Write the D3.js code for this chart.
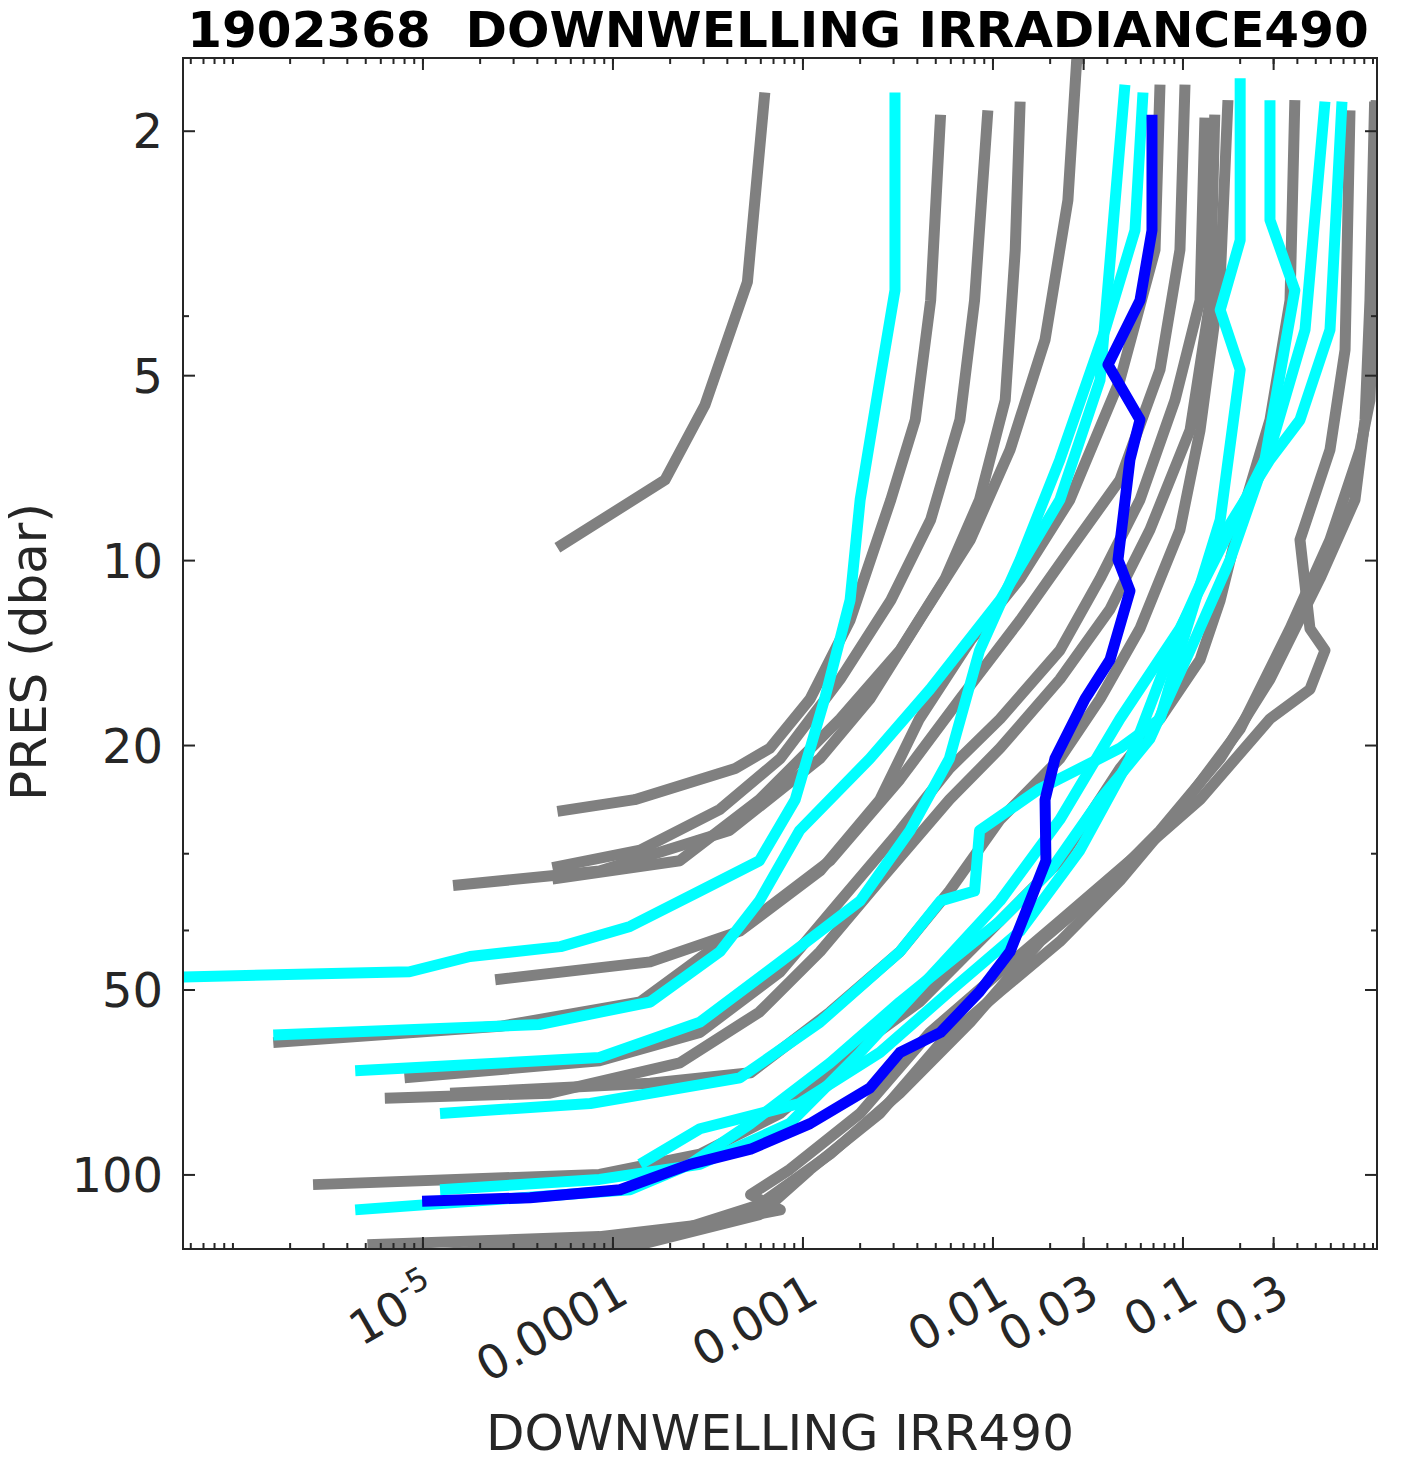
<!DOCTYPE html>
<html><head><meta charset="utf-8">
<script src="https://cdn.jsdelivr.net/npm/d3@7"></script>
<style>body{margin:0;background:#fff}svg{font-family:"DejaVu Sans",sans-serif}</style>
</head><body><svg id="c" width="1411" height="1464"></svg>
<script>
const title = "1902368  DOWNWELLING IRRADIANCE490";
const xLabel = "DOWNWELLING IRR490";
const yLabel = "PRES (dbar)";
const xTicks = [1e-5, 1e-4, 1e-3, 0.01, 0.03, 0.1, 0.3];
const xTickLabels = ["10^-5", "0.0001", "0.001", "0.01", "0.03", "0.1", "0.3"];
const yTicks = [2, 5, 10, 20, 50, 100];
const yMinorTicks = [4, 30, 40];

// gray profiles: [irradiance, pressure]
const gray = [
 [[6.3e-4,1.73],[5.1e-4,3.52],[3.05e-4,5.58],[1.88e-4,7.39],[5.1e-5,9.53]],
 [[5.3e-3,1.88],[4.7e-3,3.77],[3.9e-3,5.9],[2.9e-3,7.96],[1.77e-3,12.5],[1.09e-3,16.8],[6.7e-4,20.2],[4.4e-4,21.8],[1.3e-4,24.5],[5.1e-5,25.6]],
 [[9.4e-3,1.85],[8.0e-3,3.77],[6.7e-3,5.9],[4.7e-3,8.58],[2.9e-3,11.6],[1.57e-3,15.6],[7.6e-4,21.0],[3.66e-4,25.4],[1.39e-4,29.6],[4.8e-5,31.6]],
 [[0.0139,1.79],[0.0131,3.12],[0.0116,5.48],[8.5e-3,7.96],[5.6e-3,10.7],[3.24e-3,14.0],[1.57e-3,18.1],[5.9e-4,24.5],[2.25e-4,30.8],[4.8e-5,33.0]],
 [[0.0277,1.5],[0.0248,2.59],[0.0188,4.37],[0.0123,6.6],[7.6e-3,9.25],[4.1e-3,12.5],[2.25e-3,16.8],[1.23e-3,21.0],[4.1e-4,27.5],[8.5e-5,32.0],[1.44e-5,33.8]],
 [[0.0757,1.68],[0.0713,3.12],[0.0466,5.08],[0.0254,7.96],[0.0139,10.7],[7.6e-3,13.5],[4.1e-3,18.1],[2.54e-3,24.5],[1.23e-3,32.0],[4.66e-4,40.1],[1.57e-4,45.0],[2.4e-5,48.1]],
 [[0.1025,1.68],[0.0964,3.12],[0.0757,4.89],[0.0466,7.39],[0.0254,9.6],[0.0139,12.5],[6.7e-3,16.8],[3.24e-3,22.7],[1.39e-3,30.8],[5.3e-4,38.6],[1.39e-4,52.3],[2.54e-5,57.3],[1.63e-6,60.9]],
 [[0.1305,1.9],[0.123,3.77],[0.0908,5.48],[0.0594,7.96],[0.0366,10.7],[0.0225,14.0],[0.0109,18.1],[5.9e-3,21.8],[3.24e-3,27.5],[1.57e-3,35.8],[7.6e-4,46.7],[2.87e-4,58.6],[8.5e-5,65.2],[8.0e-6,69.5]],
 [[0.147,1.88],[0.139,3.77],[0.109,6.13],[0.067,8.91],[0.0413,12.0],[0.0225,15.6],[0.0109,20.2],[5.9e-3,24.5],[2.54e-3,33.2],[1.23e-3,43.3],[5.9e-4,54.3],[2.25e-4,65.7],[4.66e-5,73.6],[6.3e-6,75.0]],
 [[0.1725,1.78],[0.157,3.49],[0.123,6.13],[0.0964,8.91],[0.0594,12.9],[0.0366,16.8],[0.0225,21.0],[0.0109,26.4],[5.9e-3,34.5],[3.24e-3,43.3],[1.39e-3,54.3],[5.3e-4,68.2],[1.57e-4,70.9],[1.39e-5,73.6]],
 [[0.388,1.78],[0.366,3.77],[0.287,5.9],[0.2,8.58],[0.157,11.6],[0.123,14.5],[0.0757,18.1],[0.0466,21.8],[0.0225,30.8],[0.0109,38.6],[4.1e-3,52.3],[1.77e-3,63.2],[7.6e-4,79.4],[2.87e-4,92.5],[8.5e-5,99.8],[2.64e-6,103.7]],
 [[0.757,1.85],[0.713,4.54],[0.594,6.6],[0.413,9.25],[0.466,12.9],[0.559,14.0],[0.466,16.2],[0.287,18.1],[0.123,24.5],[0.0526,30.8],[0.0225,38.6],[0.0109,46.7],[4.66e-3,58.6],[2.0e-3,79.4],[8.5e-4,98.0],[5.3e-4,107.7],[7.6e-4,114.0],[2.87e-4,120.6],[8.5e-5,126.0],[5.1e-6,129.9]],
 [[1.02,1.79],[0.964,3.77],[0.908,5.9],[0.804,7.96],[0.526,10.7],[0.287,15.6],[0.157,21.0],[0.0757,27.5],[0.0366,34.5],[0.0177,41.7],[7.6e-3,56.4],[3.24e-3,73.6],[1.39e-3,92.5],[5.9e-4,111.8],[1.57e-4,127.4],[9.9e-6,134.8]],
 [[1.04,1.78],[1.02,3.49],[0.964,5.48],[0.855,6.6],[0.594,9.25],[0.366,12.9],[0.2,18.8],[0.0964,25.4],[0.0466,33.2],[0.0225,41.7],[0.0109,50.3],[5.3e-3,61.0],[2.54e-3,79.4],[1.09e-3,98.0],[5.9e-4,116.1],[1.09e-4,132.3],[2.0e-5,134.8]]
];
// cyan profiles
const cyan = [
 [[3.05e-3,1.73],[3.05e-3,3.63],[2.54e-3,5.08],[2.0e-3,7.96],[1.77e-3,11.6],[1.3e-3,16.8],[9.1e-4,24.5],[5.9e-4,30.8],[2.87e-4,34.5],[1.23e-4,39.4],[5.3e-5,42.5],[1.77e-5,44.1],[8.5e-6,46.7],[5.5e-7,47.6]],
 [[0.0495,1.68],[0.0366,5.08],[0.0225,7.96],[0.0109,11.6],[4.66e-3,16.2],[2.25e-3,21.0],[9.6e-4,27.5],[5.9e-4,35.8],[3.66e-4,43.3],[1.57e-4,52.3],[4.1e-5,56.9],[1.63e-6,59.2]],
 [[0.0616,1.73],[0.0559,2.9],[0.0389,4.21],[0.0225,6.85],[0.0139,9.97],[8.5e-3,14.0],[5.9e-3,21.0],[3.66e-3,27.5],[2.0e-3,35.8],[7.6e-4,45.0],[2.87e-4,56.4],[8.5e-5,64.4],[4.4e-6,67.7]],
 [[0.2,1.64],[0.2,3.01],[0.157,3.91],[0.2,4.89],[0.157,8.58],[0.0964,14.0],[0.0757,18.1],[0.0466,20.2],[0.0177,23.5],[8.5e-3,27.5],[8.0e-3,34.5],[5.3e-3,35.8],[3.24e-3,43.3],[1.23e-3,56.4],[4.66e-4,69.5],[7.6e-5,76.5],[1.23e-5,79.4]],
 [[0.287,1.78],[0.287,2.79],[0.388,3.63],[0.27,6.85],[0.177,9.97],[0.109,14.0],[0.067,19.5],[0.0366,24.5],[0.02,32.0],[0.0109,38.6],[5.9e-3,45.0],[3.24e-3,52.3],[1.39e-3,65.7],[5.3e-4,82.5],[2.54e-4,96.1],[1.23e-4,105.7],[4.4e-6,114.0]],
 [[0.559,1.79],[0.439,4.21],[0.287,6.6],[0.177,8.91],[0.0964,12.9],[0.0466,18.1],[0.0225,26.4],[0.0109,35.8],[4.66e-3,47.6],[2.0e-3,63.2],[8.5e-4,82.5],[2.87e-4,96.1],[8.5e-5,101.7],[1.23e-5,105.7]],
 [[0.687,1.79],[0.594,4.21],[0.413,5.9],[0.287,6.85],[0.157,9.25],[0.0908,13.5],[0.0526,21.0],[0.0287,29.6],[0.0139,40.1],[5.9e-3,50.3],[2.54e-3,63.2],[9.6e-4,76.5],[2.87e-4,84.1],[1.39e-4,96.1]]
];
// highlighted (blue) profile
const blue = [[0.0687,1.88],[0.0687,2.9],[0.0594,3.77],[0.0403,4.8],[0.0594,5.9],[0.0526,6.85],[0.0455,9.97],[0.0526,11.2],[0.0413,14.5],[0.0305,16.8],[0.0212,21.0],[0.0188,24.5],[0.019,30.8],[0.0157,35.8],[0.0123,43.3],[8.5e-3,50.3],[5.3e-3,58.6],[3.24e-3,63.2],[2.25e-3,72.2],[1.09e-3,82.5],[5.3e-4,90.8],[2.54e-4,96.1],[1.09e-4,105.7],[3.66e-5,108.9],[9.9e-6,110.4]];

const L=183,R=1377,T=58,B=1249, ink="#262626";
const svg=d3.select("#c");
const x=d3.scaleLog().domain([5.46e-7,1.05]).range([L,R]);
const y=d3.scaleLog().domain([1.52,132]).range([T,B]);
svg.append("defs").append("clipPath").attr("id","cp").append("rect").attr("x",L).attr("y",T).attr("width",R-L).attr("height",B-T);
const line=d3.line().x(d=>x(d[0])).y(d=>y(d[1]));
const g=svg.append("g").attr("clip-path","url(#cp)");
const draw=(arr,col)=>arr.forEach(s=>g.append("path").attr("d",line(s)).attr("fill","none").attr("stroke",col).attr("stroke-width",11).attr("stroke-linejoin","round"));
draw(gray,"#808080"); draw(cyan,"#00ffff"); draw([blue],"#0000ff");

svg.append("rect").attr("x",L).attr("y",T).attr("width",R-L).attr("height",B-T).attr("fill","none").attr("stroke",ink).attr("stroke-width",2);
const minor=[];
for(let e=-7;e<=0;e++)for(let m=1;m<10;m++){const v=m*Math.pow(10,e);if(v>=5.46e-7&&v<=1.05)minor.push(v);}
minor.forEach(v=>{[[B,-6],[T,6]].forEach(([yy,d])=>svg.append("line").attr("x1",x(v)).attr("x2",x(v)).attr("y1",yy).attr("y2",yy+d).attr("stroke",ink).attr("stroke-width",2));});
xTicks.forEach(v=>{[[B,-12],[T,12]].forEach(([yy,d])=>svg.append("line").attr("x1",x(v)).attr("x2",x(v)).attr("y1",yy).attr("y2",yy+d).attr("stroke",ink).attr("stroke-width",2));});
xTicks.forEach((v,i)=>{
  const t=svg.append("text").attr("transform",`translate(${x(v)+18},${B+52}) rotate(-30)`).attr("text-anchor","end").attr("font-size",47).attr("fill",ink);
  const lab=xTickLabels[i];
  if(lab.includes("^")){const [b,e]=lab.split("^");t.append("tspan").text(b);t.append("tspan").attr("dy",-19).attr("font-size",32).text(e);}
  else t.text(lab);
});
yTicks.concat(yMinorTicks).forEach(v=>{const len=yTicks.includes(v)?12:6;
  [[L,len],[R,-len]].forEach(([xx,d])=>svg.append("line").attr("x1",xx).attr("x2",xx+d).attr("y1",y(v)).attr("y2",y(v)).attr("stroke",ink).attr("stroke-width",2));});
yTicks.forEach(v=>svg.append("text").attr("x",163).attr("y",y(v)+17).attr("text-anchor","end").attr("font-size",48).attr("fill",ink).text(v));
svg.append("text").attr("x",778).attr("y",47).attr("text-anchor","middle").attr("font-size",50).attr("font-weight","bold").attr("fill","#000").style("white-space","pre").text(title);
svg.append("text").attr("x",780).attr("y",1450).attr("text-anchor","middle").attr("font-size",50).attr("fill",ink).text(xLabel);
svg.append("text").attr("transform","translate(46,652) rotate(-90)").attr("text-anchor","middle").attr("font-size",50).attr("fill",ink).text(yLabel);
</script></body></html>
